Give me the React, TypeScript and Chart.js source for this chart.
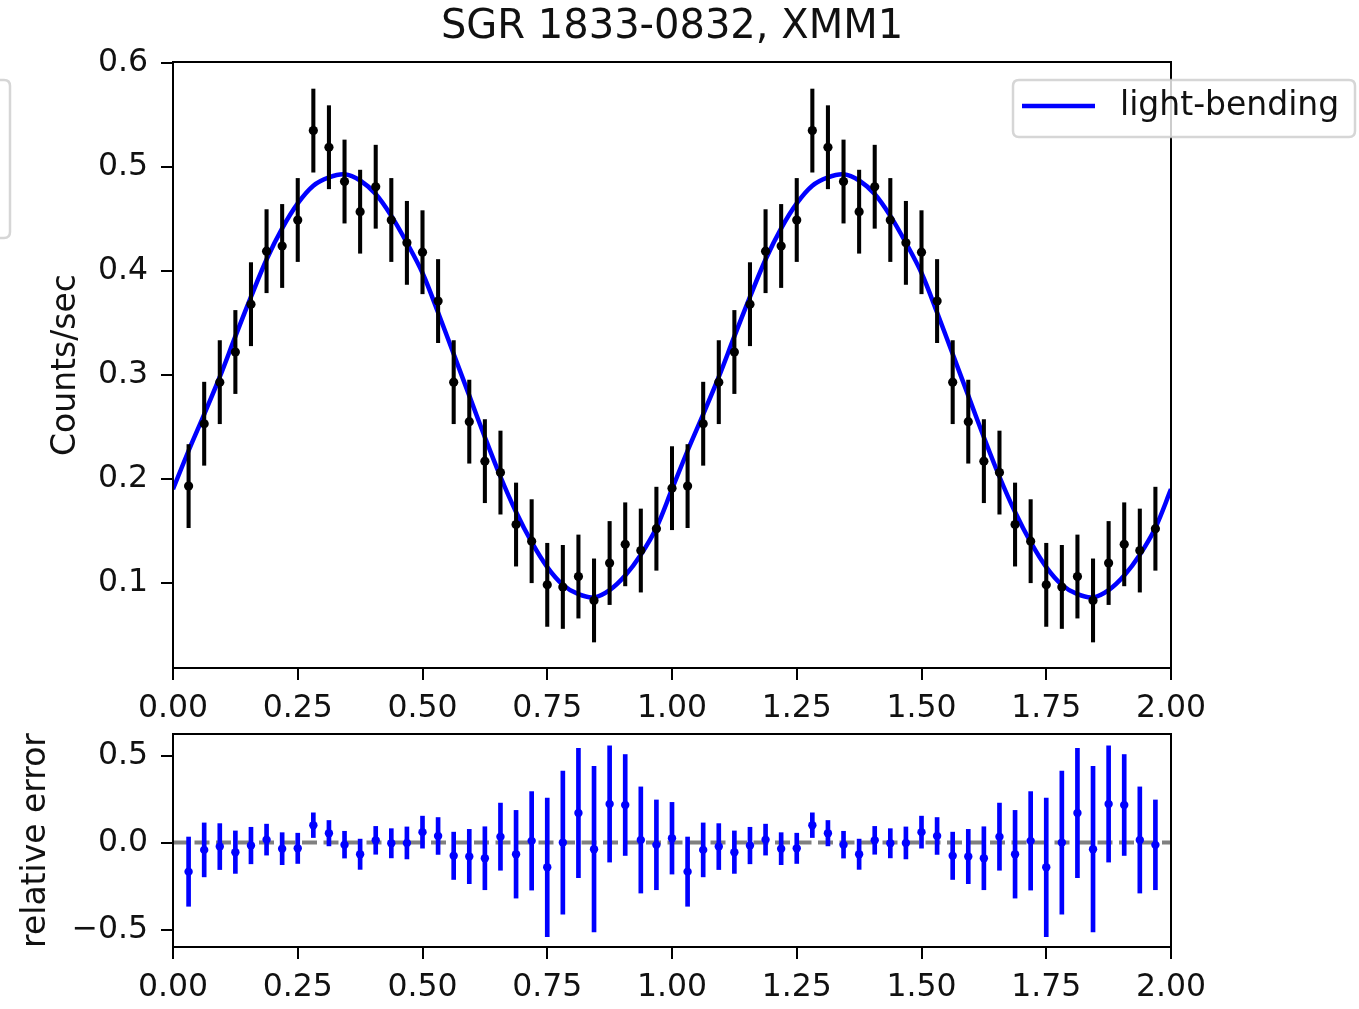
import React, { useEffect, useRef } from "react";
import { Chart, registerables } from "chart.js";

Chart.register(...registerables);

// ---------------- data ----------------
const PHASE_BINS = 32;
const CYCLES = 2;

// folded count rate per phase bin (phase = k/32)
const COUNT_RATE = [
  0.191, 0.193, 0.253, 0.293, 0.322, 0.368, 0.419, 0.424,
  0.449, 0.535, 0.519, 0.486, 0.457, 0.481, 0.449, 0.427,
  0.418, 0.371, 0.293, 0.255, 0.217, 0.206, 0.156, 0.140,
  0.098, 0.096, 0.106, 0.083, 0.119, 0.137, 0.131, 0.152,
];
const COUNT_ERR = [
  0.040, 0.040, 0.040, 0.040, 0.040, 0.040, 0.040, 0.040,
  0.040, 0.040, 0.040, 0.040, 0.040, 0.040, 0.040, 0.040,
  0.040, 0.040, 0.040, 0.040, 0.040, 0.040, 0.040, 0.040,
  0.040, 0.040, 0.040, 0.040, 0.040, 0.040, 0.040, 0.040,
];
// light-bending model curve per phase bin
const MODEL_RATE = [
  0.190, 0.227, 0.262, 0.298, 0.337, 0.375, 0.411, 0.441,
  0.465, 0.482, 0.490, 0.493, 0.487, 0.474, 0.453, 0.427,
  0.398, 0.360, 0.320, 0.280, 0.240, 0.202, 0.168, 0.139,
  0.115, 0.098, 0.089, 0.086, 0.093, 0.107, 0.127, 0.153,
];
// relative error panel
const REL_ERROR = [
  0.025, -0.167, -0.042, -0.023, -0.055, -0.017, 0.017, -0.035,
  -0.033, 0.100, 0.054, -0.012, -0.067, 0.013, -0.004, -0.002,
  0.060, 0.038, -0.076, -0.080, -0.090, 0.034, -0.067, 0.010,
  -0.142, 0.000, 0.170, -0.038, 0.222, 0.216, 0.015, -0.013,
];
const REL_ERROR_ERR = [
  0.206, 0.199, 0.155, 0.132, 0.122, 0.105, 0.089, 0.092,
  0.087, 0.071, 0.073, 0.077, 0.087, 0.080, 0.084, 0.092,
  0.092, 0.106, 0.136, 0.156, 0.181, 0.193, 0.252, 0.283,
  0.398, 0.411, 0.372, 0.476, 0.334, 0.290, 0.305, 0.258,
];

const X_TICKS = [0, 0.25, 0.5, 0.75, 1.0, 1.25, 1.5, 1.75, 2.0];
const TOP_Y_TICKS = [0.1, 0.2, 0.3, 0.4, 0.5, 0.6];
const BOTTOM_Y_TICKS = [-0.5, 0.0, 0.5];

const TITLE = "SGR 1833-0832, XMM1";
const TOP_Y_LABEL = "Counts/sec";
const BOTTOM_Y_LABEL = "relative error";
const LEGEND_LABEL = "light-bending";

// ---------------- helpers ----------------
const FONT = "'DejaVu Sans', 'Liberation Sans', sans-serif";
const BLUE = "#0000ff";

const pointIdx = Array.from({ length: PHASE_BINS * CYCLES - 1 }, (_, j) => j + 1);
const modelIdx = Array.from({ length: PHASE_BINS * CYCLES + 1 }, (_, j) => j);

const countPoints = pointIdx.map((k) => ({ x: k / PHASE_BINS, y: COUNT_RATE[k % PHASE_BINS] }));
const countBars = pointIdx.map((k) => {
  const p = k % PHASE_BINS;
  return { x: k / PHASE_BINS, y: [COUNT_RATE[p] - COUNT_ERR[p], COUNT_RATE[p] + COUNT_ERR[p]] };
});
const modelPoints = modelIdx.map((k) => ({ x: k / PHASE_BINS, y: MODEL_RATE[k % PHASE_BINS] }));
const relPoints = pointIdx.map((k) => ({ x: k / PHASE_BINS, y: REL_ERROR[k % PHASE_BINS] }));
const relBars = pointIdx.map((k) => {
  const p = k % PHASE_BINS;
  return { x: k / PHASE_BINS, y: [REL_ERROR[p] - REL_ERROR_ERR[p], REL_ERROR[p] + REL_ERROR_ERR[p]] };
});
const zeroLine = [
  { x: X_TICKS[0], y: 0 },
  { x: X_TICKS[X_TICKS.length - 1], y: 0 },
];

const fmtMinus = (v: number, d: number) => {
  const s = Math.abs(v) < 1e-9 ? (0).toFixed(d) : v.toFixed(d);
  return s.replace("-", "\u2212");
};

const gridOpts = {
  drawOnChartArea: false,
  drawTicks: true,
  offset: false,
  tickLength: 12,
  color: "#000",
  lineWidth: 2,
};
const borderOpts = { display: true, color: "#000", width: 2 };

const framePlugin = {
  id: "frame",
  afterDatasetsDraw(chart: any) {
    const { ctx, chartArea: a } = chart;
    ctx.save();
    ctx.strokeStyle = "#000";
    ctx.lineWidth = 2;
    ctx.strokeRect(a.left, a.top, a.right - a.left, a.bottom - a.top);
    ctx.restore();
  },
};

function roundRect(ctx: CanvasRenderingContext2D, x: number, y: number, w: number, h: number, r: number) {
  ctx.beginPath();
  ctx.moveTo(x + r, y);
  ctx.lineTo(x + w - r, y);
  ctx.quadraticCurveTo(x + w, y, x + w, y + r);
  ctx.lineTo(x + w, y + h - r);
  ctx.quadraticCurveTo(x + w, y + h, x + w - r, y + h);
  ctx.lineTo(x + r, y + h);
  ctx.quadraticCurveTo(x, y + h, x, y + h - r);
  ctx.lineTo(x, y + r);
  ctx.quadraticCurveTo(x, y, x + r, y);
  ctx.closePath();
}

const legendPlugin = {
  id: "mplLegend",
  afterDraw(chart: any) {
    const { ctx, chartArea: a } = chart;
    ctx.save();
    // legend box, partly outside the axes (semi-transparent like matplotlib)
    const bx = a.right - 158;
    const by = a.top + 18;
    const bw = 342;
    const bh = 57;
    roundRect(ctx, bx, by, bw, bh, 6);
    ctx.fillStyle = "rgba(255,255,255,0.8)";
    ctx.fill();
    ctx.strokeStyle = "rgba(204,204,204,0.8)";
    ctx.lineWidth = 2.5;
    ctx.stroke();
    ctx.beginPath();
    ctx.moveTo(bx + 9, by + 26);
    ctx.lineTo(bx + 82, by + 26);
    ctx.strokeStyle = BLUE;
    ctx.lineWidth = 4.5;
    ctx.stroke();
    ctx.fillStyle = "#111";
    ctx.font = `33px ${FONT}`;
    ctx.textAlign = "left";
    ctx.textBaseline = "middle";
    ctx.fillText(LEGEND_LABEL, bx + 107, by + 26);
    // cropped legend frame at the far left edge
    roundRect(ctx, -30, by, 40, 158, 6);
    ctx.strokeStyle = "rgba(204,204,204,0.8)";
    ctx.lineWidth = 2.5;
    ctx.stroke();
    ctx.restore();
  },
};

function xScale(padding: number) {
  return {
    type: "linear" as const,
    min: X_TICKS[0],
    max: X_TICKS[X_TICKS.length - 1],
    offset: false,
    afterBuildTicks: (s: any) => {
      s.ticks = X_TICKS.map((v) => ({ value: v }));
    },
    afterFit: (s: any) => {
      s.height = 62;
      s.paddingLeft = 0;
      s.paddingRight = 0;
    },
    grid: gridOpts,
    border: borderOpts,
    ticks: {
      autoSkip: false,
      maxRotation: 0,
      padding,
      color: "#111",
      font: { family: FONT, size: 31.5 },
      callback: (v: any) => Number(v).toFixed(2),
    },
  };
}

function yFit(s: any) {
  s.width = 173;
  s.paddingTop = 0;
  s.paddingBottom = 0;
}

function topConfig(): any {
  return {
    type: "scatter",
    data: {
      datasets: [
        {
          type: "line",
          label: LEGEND_LABEL,
          data: modelPoints,
          borderColor: BLUE,
          borderWidth: 4.5,
          pointRadius: 0,
          tension: 0.35,
          fill: false,
          order: 3,
        },
        {
          type: "bar",
          label: "err",
          data: countBars,
          backgroundColor: "#000",
          borderWidth: 0,
          barThickness: 3.4,
          grouped: false,
          order: 2,
        },
        {
          type: "scatter",
          label: "data",
          data: countPoints,
          backgroundColor: "#000",
          borderWidth: 0,
          pointRadius: 4.6,
          order: 1,
        },
      ],
    },
    options: {
      responsive: false,
      animation: false,
      events: [],
      devicePixelRatio: 1,
      layout: { padding: { left: 0, right: 188, top: 0, bottom: 0 } },
      plugins: {
        legend: { display: false },
        tooltip: { enabled: false },
        title: {
          display: true,
          text: TITLE,
          fullSize: false,
          color: "#111",
          font: { family: FONT, size: 40, weight: "normal" },
          padding: { top: 4, bottom: 10 },
        },
      },
      scales: {
        x: xScale(10),
        y: {
          type: "linear",
          min: 0.018,
          max: 0.601,
          afterBuildTicks: (s: any) => {
            s.ticks = TOP_Y_TICKS.map((v) => ({ value: v }));
          },
          afterFit: yFit,
          grid: gridOpts,
          border: borderOpts,
          title: {
            display: true,
            text: TOP_Y_LABEL,
            color: "#111",
            font: { family: FONT, size: 33 },
            padding: { top: 47, bottom: 0 },
          },
          ticks: {
            padding: 13,
            color: "#111",
            font: { family: FONT, size: 31.5 },
            callback: (v: any) => Number(v).toFixed(1),
          },
        },
      },
    },
    plugins: [framePlugin, legendPlugin],
  };
}

function bottomConfig(): any {
  return {
    type: "scatter",
    data: {
      datasets: [
        {
          type: "line",
          label: "zero",
          data: zeroLine,
          borderColor: "#808080",
          borderWidth: 4,
          borderDash: [15, 6.5],
          pointRadius: 0,
          fill: false,
          order: 3,
        },
        {
          type: "bar",
          label: "relerr",
          data: relBars,
          backgroundColor: BLUE,
          borderWidth: 0,
          barThickness: 4,
          grouped: false,
          order: 2,
        },
        {
          type: "scatter",
          label: "rel",
          data: relPoints,
          backgroundColor: BLUE,
          borderWidth: 0,
          pointRadius: 4.2,
          order: 1,
        },
      ],
    },
    options: {
      responsive: false,
      animation: false,
      events: [],
      devicePixelRatio: 1,
      layout: { padding: { left: 0, right: 188, top: 14, bottom: 0 } },
      plugins: {
        legend: { display: false },
        tooltip: { enabled: false },
        title: { display: false },
      },
      scales: {
        x: xScale(10),
        y: {
          type: "linear",
          min: -0.6,
          max: 0.624,
          afterBuildTicks: (s: any) => {
            s.ticks = BOTTOM_Y_TICKS.map((v) => ({ value: v }));
          },
          afterFit: yFit,
          grid: gridOpts,
          border: borderOpts,
          title: {
            display: true,
            text: BOTTOM_Y_LABEL,
            color: "#111",
            font: { family: FONT, size: 33 },
            padding: { top: 17, bottom: 0 },
          },
          ticks: {
            padding: 13,
            color: "#111",
            font: { family: FONT, size: 31.5 },
            callback: (v: any) => fmtMinus(Number(v), 1),
          },
        },
      },
    },
    plugins: [framePlugin],
  };
}

export default function App() {
  const topRef = useRef<HTMLCanvasElement>(null);
  const botRef = useRef<HTMLCanvasElement>(null);

  useEffect(() => {
    const top = new Chart(topRef.current as HTMLCanvasElement, topConfig());
    const bot = new Chart(botRef.current as HTMLCanvasElement, bottomConfig());
    return () => {
      top.destroy();
      bot.destroy();
    };
  }, []);

  return (
    <div
      style={{
        position: "absolute",
        left: 0,
        top: 0,
        width: 1359,
        height: 1009,
        background: "#fff",
        overflow: "hidden",
      }}
    >
      <canvas
        ref={topRef}
        width={1359}
        height={730}
        style={{ position: "absolute", left: 0, top: 0, width: 1359, height: 730 }}
      />
      <canvas
        ref={botRef}
        width={1359}
        height={289}
        style={{ position: "absolute", left: 0, top: 720, width: 1359, height: 289 }}
      />
    </div>
  );
}
